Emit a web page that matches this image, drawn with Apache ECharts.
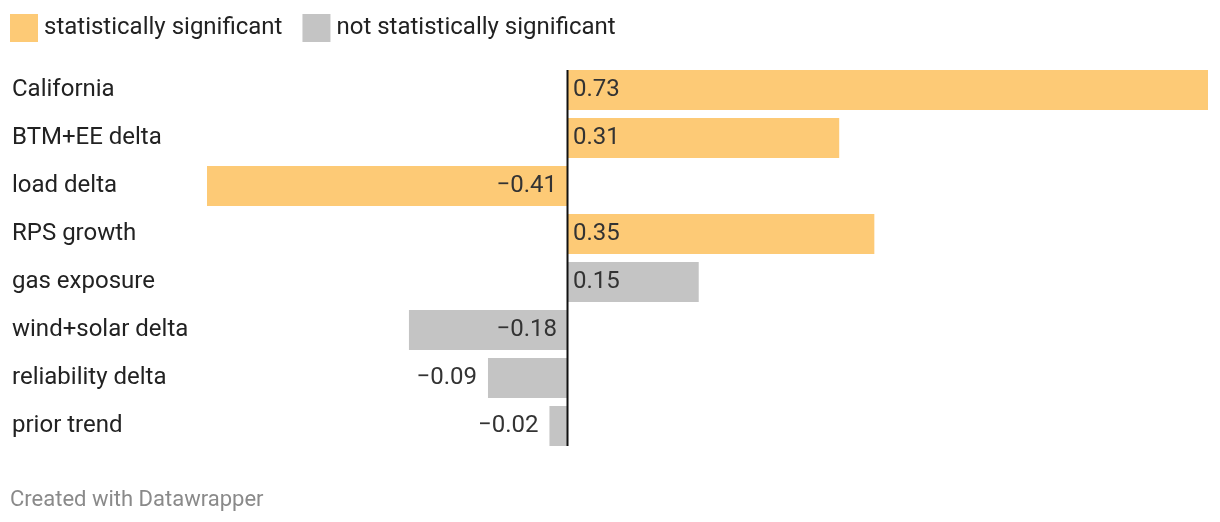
<!DOCTYPE html>
<html>
<head>
<meta charset="utf-8">
<script src="https://cdn.jsdelivr.net/npm/echarts@6/dist/echarts.min.js"></script>
<style>
html,body{margin:0;padding:0;background:#fff;}
#c{width:1220px;height:522px;}
</style>
</head>
<body>
<div id="c"></div>
<script>
const categories = ["California","BTM+EE delta","load delta","RPS growth","gas exposure","wind+solar delta","reliability delta","prior trend"];
const values = [0.73, 0.31, -0.41, 0.35, 0.15, -0.18, -0.09, -0.02];
const significant = [true, true, true, true, false, false, false, false];
const legendNames = ["statistically significant", "not statistically significant"];

const ORANGE = '#fdca76';
const GRAY = '#c4c4c4';
const FONT = 'Roboto';

function fmt(v){ return v.toFixed(2).replace('-', '\u2212'); }

function labelFor(v){
  if (v >= 0) return {show:true, position:'insideLeft', distance:6};
  if (Math.abs(v) < 0.12) return {show:true, position:'left', distance:11};
  return {show:true, position:'insideRight', distance:10};
}

function seriesData(flag){
  return values.map((v,i)=> significant[i] === flag ? {value:v, label:labelFor(v)} : '-');
}

const chart = echarts.init(document.getElementById('c'), null, {renderer:'canvas'});
chart.setOption({
  animation:false,
  textStyle:{fontFamily:FONT},
  title:{
    text:'Created with Datawrapper', left:5, top:484,
    textStyle:{fontFamily:FONT, fontSize:22, fontWeight:'normal', color:'#8a8a8a'}
  },
  legend:{
    left:5, top:9, icon:'rect', itemWidth:28, itemHeight:28, itemGap:20,
    textStyle:{fontFamily:FONT, fontSize:24, color:'#222', padding:[5,0,0,1]},
    data:legendNames, selectedMode:false
  },
  grid:{left:207, right:12, top:66, height:384, containLabel:false},
  xAxis:{type:'value', min:-0.41, max:0.73, show:false, splitLine:{show:false}},
  yAxis:{
    type:'category', data:categories, inverse:true,
    axisLine:{show:false}, axisTick:{show:false}, splitLine:{show:false},
    axisLabel:{align:'left', margin:195, fontFamily:FONT, fontSize:24, color:'#222', padding:[0,0,4,0]}
  },
  series:[
    {
      name:legendNames[0], type:'bar', barWidth:40, barGap:'-100%',
      itemStyle:{color:ORANGE},
      label:{fontFamily:FONT, fontSize:24, color:'#333', formatter:p=>fmt(p.value)},
      data:seriesData(true)
    },
    {
      name:legendNames[1], type:'bar', barWidth:40, barGap:'-100%',
      itemStyle:{color:GRAY},
      label:{fontFamily:FONT, fontSize:24, color:'#333', formatter:p=>fmt(p.value)},
      data:seriesData(false)
    },
    {
      type:'custom', z:10, silent:true,
      data:[[0,0]],
      renderItem:function(params, api){
        const a = api.coord([0, 0]);
        const b = api.coord([0, categories.length-1]);
        return {type:'line', shape:{x1:a[0]+0.5, y1:a[1]-20, x2:b[0]+0.5, y2:b[1]+20},
                style:{stroke:'#111', lineWidth:2}};
      }
    }
  ]
});
</script>
</body>
</html>
